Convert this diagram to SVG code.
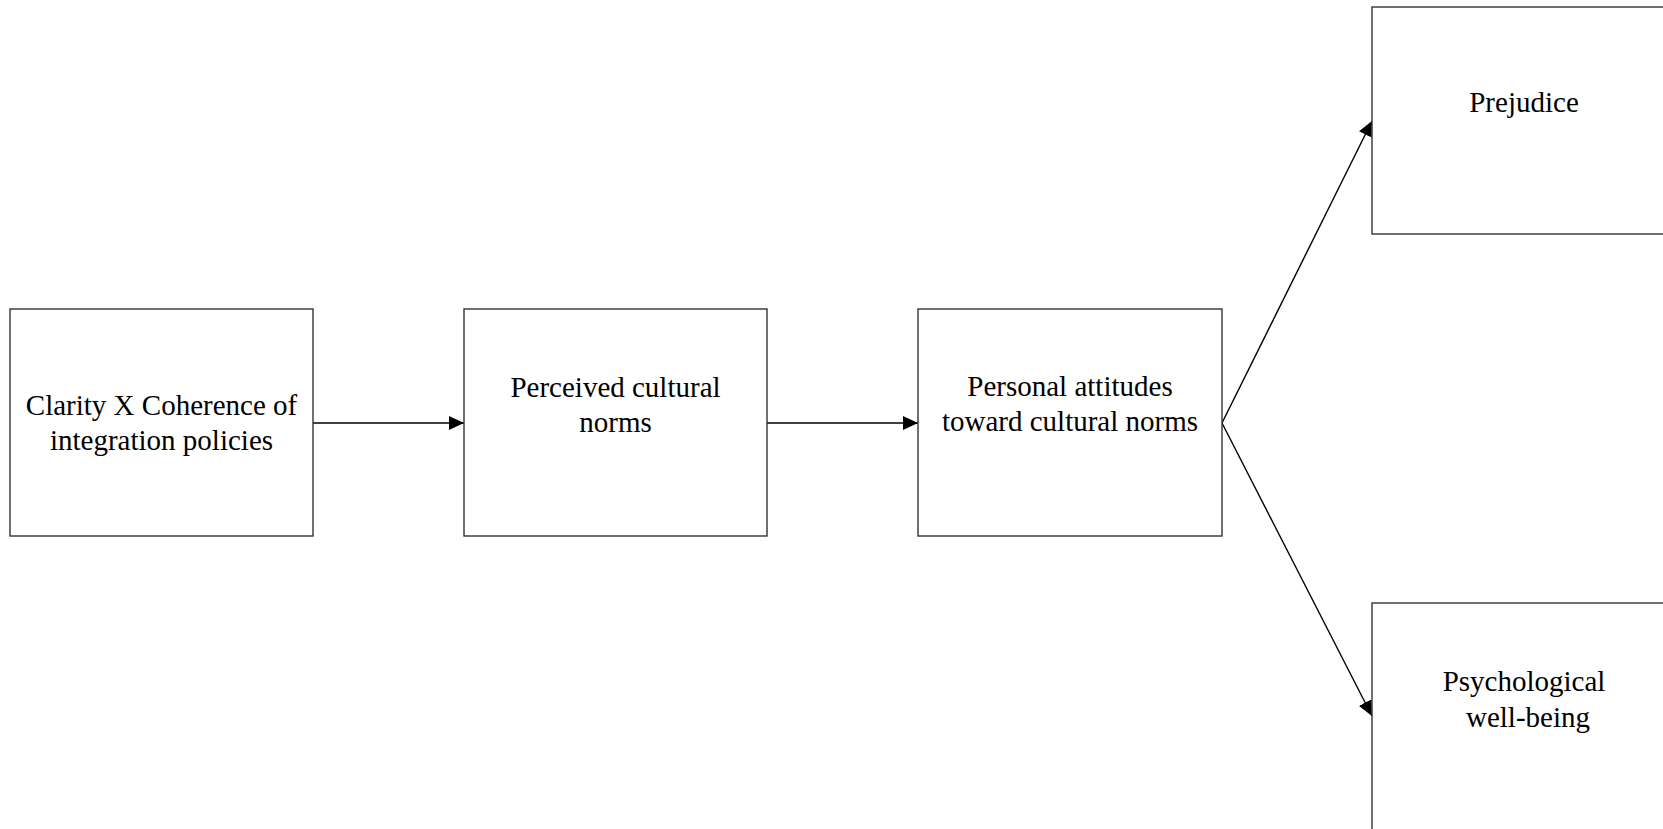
<svg xmlns="http://www.w3.org/2000/svg" width="1663" height="829" viewBox="0 0 1663 829">
<style>
.box{fill:#fff;stroke:#333;stroke-width:1.4}
.lbl{font-family:"Liberation Serif","Times New Roman",serif;font-size:29px;fill:#000;text-anchor:middle}
.edge{stroke:#000;stroke-width:1.4;fill:none;marker-end:url(#ah)}
</style>
<defs>
<marker id="ah" markerUnits="userSpaceOnUse" markerWidth="15" markerHeight="14" refX="15" refY="7" orient="auto">
<path d="M0,0 L15,7 L0,14 z" fill="#000"/>
</marker>
</defs>
<rect width="1663" height="829" fill="#fff"/>
<g id="connectors">
<line class="edge" x1="313" y1="423" x2="464" y2="423"/>
<line class="edge" x1="767" y1="423" x2="918" y2="423"/>
<line class="edge" x1="1222" y1="423" x2="1372" y2="121"/>
<line class="edge" x1="1222" y1="423" x2="1372" y2="716"/>
</g>
<g id="n1">
<rect class="box" x="10" y="309" width="303" height="227"/>
<text class="lbl" x="161.5" y="415">Clarity X Coherence of</text>
<text class="lbl" x="161.5" y="450">integration policies</text>
</g>
<g id="n2">
<rect class="box" x="464" y="309" width="303" height="227"/>
<text class="lbl" x="615.5" y="397">Perceived cultural</text>
<text class="lbl" x="615.5" y="432">norms</text>
</g>
<g id="n3">
<rect class="box" x="918" y="309" width="304" height="227"/>
<text class="lbl" x="1070" y="396">Personal attitudes</text>
<text class="lbl" x="1070" y="431">toward cultural norms</text>
</g>
<g id="n4">
<rect class="box" x="1372" y="7" width="303" height="227"/>
<text class="lbl" x="1524" y="112">Prejudice</text>
</g>
<g id="n5">
<rect class="box" x="1372" y="603" width="303" height="227"/>
<text class="lbl" x="1524" y="691">Psychological</text>
<text class="lbl" x="1528" y="727">well-being</text>
</g>
</svg>
